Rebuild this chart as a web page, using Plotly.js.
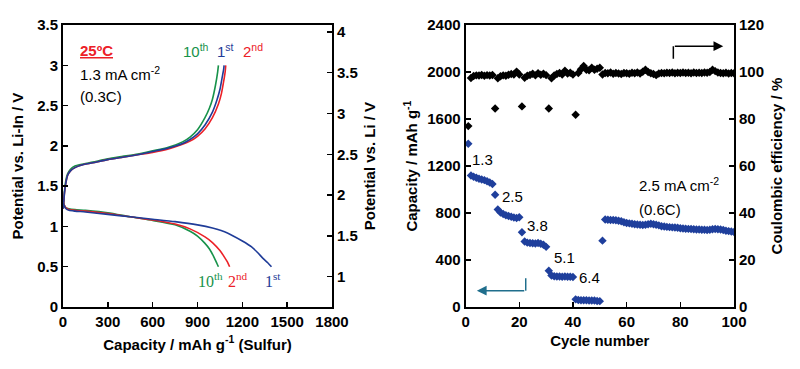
<!DOCTYPE html>
<html>
<head>
<meta charset="utf-8">
<script src="https://cdn.plot.ly/plotly-3.0.1.min.js"></script>
<style>html,body{margin:0;padding:0;background:#fff;}#chart{width:800px;height:369px;}</style>
</head>
<body>
<div id="chart"></div>
<script>
// ---------- Left panel: charge / discharge profiles ----------
const chg1Cap = [0, 5, 10, 20, 30, 50, 80, 120, 200, 300, 400, 500, 600, 700, 800, 850, 900, 950, 1000, 1030, 1050, 1065, 1075, 1078];
const chg1V   = [1.22, 1.3, 1.42, 1.55, 1.63, 1.69, 1.73, 1.76, 1.79, 1.83, 1.86, 1.89, 1.93, 1.97, 2.03, 2.08, 2.15, 2.26, 2.42, 2.57, 2.70, 2.85, 2.95, 3.0];
const chg2Cap = [0, 5, 10, 20, 30, 50, 80, 120, 200, 300, 400, 500, 600, 700, 800, 850, 900, 950, 1000, 1040, 1060, 1075, 1085, 1089];
const chg2V   = [1.22, 1.3, 1.42, 1.55, 1.63, 1.69, 1.73, 1.76, 1.79, 1.83, 1.86, 1.89, 1.92, 1.96, 2.02, 2.06, 2.12, 2.21, 2.35, 2.52, 2.65, 2.80, 2.92, 3.0];
const chg10Cap = [0, 5, 10, 20, 30, 50, 80, 120, 200, 300, 400, 500, 600, 700, 800, 850, 900, 950, 980, 1000, 1020, 1035, 1040];
const chg10V   = [1.22, 1.31, 1.44, 1.58, 1.65, 1.71, 1.75, 1.77, 1.80, 1.84, 1.87, 1.90, 1.94, 1.98, 2.05, 2.11, 2.20, 2.35, 2.47, 2.58, 2.75, 2.92, 3.0];

const dis1Cap = [0, 10, 20, 40, 80, 150, 300, 450, 600, 750, 900, 1000, 1100, 1200, 1260, 1300, 1340, 1370, 1395];
const dis1V   = [1.30, 1.25, 1.22, 1.20, 1.19, 1.18, 1.15, 1.12, 1.09, 1.06, 1.02, 0.98, 0.92, 0.82, 0.75, 0.68, 0.60, 0.55, 0.50];
const dis2Cap = [0, 10, 20, 40, 80, 150, 300, 450, 600, 750, 850, 950, 1000, 1050, 1080, 1100, 1115];
const dis2V   = [1.30, 1.26, 1.23, 1.21, 1.20, 1.19, 1.16, 1.12, 1.08, 1.03, 0.97, 0.87, 0.80, 0.70, 0.62, 0.56, 0.50];
const dis10Cap = [0, 10, 20, 40, 80, 150, 300, 450, 600, 750, 850, 900, 950, 980, 1010, 1030, 1040];
const dis10V   = [1.30, 1.26, 1.23, 1.22, 1.21, 1.20, 1.17, 1.12, 1.075, 1.02, 0.94, 0.88, 0.79, 0.72, 0.62, 0.54, 0.50];

// ---------- Right panel: rate capability ----------
const cycles = Array.from({length: 100}, (_, i) => i + 1);
const capacity = [
  1390, 1120, 1108, 1100, 1092, 1086, 1080, 1070, 1060, 1048,
  955, 830, 805, 792, 782, 775, 768, 762, 758, 765,
  637, 557, 548, 545, 543, 540, 545, 538, 530, 512,
  309, 268, 262, 260, 260, 258, 260, 258, 257, 255,
  65, 60, 58, 58, 57, 56, 55, 55, 52, 50,
  565, 745, 742, 740, 740, 738, 735, 730, 722, 715,
  712, 708, 705, 703, 700, 698, 700, 705, 708, 705,
  700, 695, 688, 685, 682, 680, 678, 676, 674, 670,
  668, 667, 665, 664, 662, 660, 659, 658, 657, 656,
  658, 662, 664, 662, 660, 655, 650, 646, 642, 638
];
const efficiency = [
  77.0, 97.5, 98.3, 98.6, 98.5, 98.8, 98.4, 98.7, 98.5, 98.8,
  84.5, 97.4, 98.2, 98.6, 98.4, 98.9, 99.2, 99.0, 100.2, 99.0,
  85.4, 97.6, 98.4, 98.8, 99.3, 98.6, 99.5, 98.9, 99.3, 98.7,
  84.5, 97.4, 98.5, 99.2, 99.6, 99.0, 100.6, 99.4, 99.7, 99.0,
  81.8, 99.6, 101.2, 102.6, 101.0, 100.8, 101.8, 101.0, 101.4, 101.8,
  99.0, 99.6, 99.5, 99.8, 99.3, 99.6, 99.4, 99.2, 99.6, 99.5,
  99.3, 99.7, 99.5, 99.8, 99.4, 100.1, 101.0, 100.0, 99.5, 99.2,
  98.7, 99.4, 99.6, 99.5, 99.7, 99.6, 99.8, 99.5, 99.7, 99.6,
  99.8, 99.6, 99.7, 99.5, 99.8, 99.6, 99.7, 99.6, 99.8, 99.7,
  100.0, 101.0, 100.4, 99.8, 99.6, 99.5, 99.7, 99.4, 99.6, 99.5
];

const GREEN = '#17924a', BLUE = '#1f3c98', RED = '#ec2027', PTBLUE = '#1f3f9c', TEAL = '#1f6e8c';
const FONT = 'Liberation Sans, Arial, sans-serif';
const SERIF = 'Liberation Serif, Times New Roman, serif';

function line(x, y, color, xa, ya) {
  return {x: x, y: y, type: 'scatter', mode: 'lines', xaxis: xa, yaxis: ya,
          line: {color: color, width: 1.6, shape: 'spline', smoothing: 0.6}, hoverinfo: 'skip', showlegend: false};
}

const traces = [
  line(chg10Cap, chg10V, GREEN, 'x', 'y'),
  line(chg2Cap, chg2V, RED, 'x', 'y'),
  line(chg1Cap, chg1V, BLUE, 'x', 'y'),
  line(dis10Cap, dis10V, GREEN, 'x', 'y'),
  line(dis2Cap, dis2V, RED, 'x', 'y'),
  line(dis1Cap, dis1V, BLUE, 'x', 'y'),
  {x: [null], y: [null], xaxis: 'x', yaxis: 'y2', type: 'scatter', mode: 'lines', showlegend: false, hoverinfo: 'skip'},
  {x: cycles, y: capacity, xaxis: 'x3', yaxis: 'y3', type: 'scatter', mode: 'markers',
   marker: {symbol: 'diamond', size: 6.5, color: PTBLUE}, showlegend: false, hoverinfo: 'skip'},
  {x: cycles, y: efficiency, xaxis: 'x3', yaxis: 'y4', type: 'scatter', mode: 'markers',
   marker: {symbol: 'diamond', size: 6.5, color: '#000'}, showlegend: false, hoverinfo: 'skip'}
];

const tickFont = {family: FONT, size: 15, color: '#000', weight: 'bold'};
const titleFont = {family: FONT, size: 15, color: '#000', weight: 'bold'};
const axBase = {showline: true, linewidth: 2, linecolor: '#000', ticks: 'inside', ticklen: 5, tickwidth: 1.5,
                tickcolor: '#000', showgrid: false, zeroline: false, tickfont: tickFont, fixedrange: true};

const YDOM = [0.168, 0.932];
const layout = {
  width: 800, height: 369,
  margin: {l: 0, r: 0, t: 0, b: 0},
  paper_bgcolor: '#fff', plot_bgcolor: '#fff',
  showlegend: false,
  xaxis: Object.assign({}, axBase, {domain: [0.07875, 0.415], range: [0, 1800], tickvals: [0, 300, 600, 900, 1200, 1500, 1800],
          anchor: 'y', mirror: true, title: {text: 'Capacity / mAh g<sup>-1</sup> (Sulfur)', font: titleFont, standoff: 10}}),
  yaxis: Object.assign({}, axBase, {domain: YDOM, range: [0, 3.5], tickvals: [0, 0.5, 1, 1.5, 2, 2.5, 3, 3.5],
          ticktext: ['0', '0.5', '1', '1.5', '2', '2.5', '3', '3.5'], anchor: 'x',
          title: {text: 'Potential vs. Li-In / V', font: titleFont, standoff: 10}}),
  yaxis2: Object.assign({}, axBase, {overlaying: 'y', side: 'right', anchor: 'x', range: [0.629, 4.082],
          tickvals: [1, 1.5, 2, 2.5, 3, 3.5, 4], ticktext: ['1', '1.5', '2', '2.5', '3', '3.5', '4'],
          title: {text: 'Potential vs. Li / V', font: titleFont, standoff: 8}}),
  xaxis3: Object.assign({}, axBase, {domain: [0.582, 0.9175], range: [0, 100], tickvals: [0, 20, 40, 60, 80, 100],
          anchor: 'y3', mirror: true, title: {text: 'Cycle number', font: titleFont, standoff: 6}}),
  yaxis3: Object.assign({}, axBase, {domain: YDOM, range: [0, 2400], tickvals: [0, 400, 800, 1200, 1600, 2000, 2400],
          anchor: 'x3', title: {text: 'Capacity / mAh g<sup>-1</sup>', font: titleFont, standoff: 6}}),
  yaxis4: Object.assign({}, axBase, {overlaying: 'y3', side: 'right', anchor: 'x3', range: [0, 120],
          tickvals: [0, 20, 40, 60, 80, 100, 120],
          title: {text: 'Coulombic efficiency / %', font: titleFont, standoff: 8}}),
  shapes: [
    {type: 'line', xref: 'x3', yref: 'y3', x0: 77.4, x1: 77.4, y0: 2113, y1: 2220, line: {color: '#000', width: 1.5}},
    {type: 'line', xref: 'x3', yref: 'y3', x0: 22.4, x1: 22.4, y0: 245, y1: 139, line: {color: TEAL, width: 1.5}}
  ],
  annotations: [
    {xref: 'x', yref: 'y', x: 100, y: 3.19, xanchor: 'left', text: '<b>25ºC</b>', showarrow: false,
     font: {family: FONT, size: 15, color: RED, lineposition: 'under'}},
    {xref: 'x', yref: 'y', x: 100, y: 2.90, xanchor: 'left', text: '1.3 mA cm<sup>-2</sup>', showarrow: false,
     font: {family: FONT, size: 15, color: '#000'}},
    {xref: 'x', yref: 'y', x: 100, y: 2.61, xanchor: 'left', text: '(0.3C)', showarrow: false,
     font: {family: FONT, size: 15, color: '#000'}},
    {xref: 'x', yref: 'y', x: 890, y: 3.19, text: '10<sup>th</sup>', showarrow: false, font: {family: FONT, size: 15, color: GREEN}},
    {xref: 'x', yref: 'y', x: 1084, y: 3.19, text: '1<sup>st</sup>', showarrow: false, font: {family: FONT, size: 15, color: BLUE}},
    {xref: 'x', yref: 'y', x: 1272, y: 3.19, text: '2<sup>nd</sup>', showarrow: false, font: {family: FONT, size: 15, color: RED}},
    {xref: 'x', yref: 'y', x: 984, y: 0.33, text: '10<sup>th</sup>', showarrow: false, font: {family: SERIF, size: 16, color: GREEN}},
    {xref: 'x', yref: 'y', x: 1171, y: 0.33, text: '2<sup>nd</sup>', showarrow: false, font: {family: SERIF, size: 16, color: RED}},
    {xref: 'x', yref: 'y', x: 1405, y: 0.33, text: '1<sup>st</sup>', showarrow: false, font: {family: SERIF, size: 16, color: BLUE}},

    {xref: 'x3', yref: 'y3', x: 6.4, y: 1254, text: '1.3', showarrow: false, font: {family: FONT, size: 15, color: '#000'}},
    {xref: 'x3', yref: 'y3', x: 17.6, y: 941, text: '2.5', showarrow: false, font: {family: FONT, size: 15, color: '#000'}},
    {xref: 'x3', yref: 'y3', x: 26.9, y: 693, text: '3.8', showarrow: false, font: {family: FONT, size: 15, color: '#000'}},
    {xref: 'x3', yref: 'y3', x: 36.9, y: 422, text: '5.1', showarrow: false, font: {family: FONT, size: 15, color: '#000'}},
    {xref: 'x3', yref: 'y3', x: 46.2, y: 252, text: '6.4', showarrow: false, font: {family: FONT, size: 15, color: '#000'}},
    {xref: 'x3', yref: 'y3', x: 63.7, y: 1041, xanchor: 'left', text: '2.5 mA cm<sup>-2</sup>', showarrow: false,
     font: {family: FONT, size: 15, color: '#000'}},
    {xref: 'x3', yref: 'y3', x: 63.7, y: 833, xanchor: 'left', text: '(0.6C)', showarrow: false,
     font: {family: FONT, size: 15, color: '#000'}},
    {xref: 'x3', yref: 'y3', axref: 'x3', ayref: 'y3', x: 96.0, y: 2220, ax: 77.4, ay: 2220, text: '',
     showarrow: true, arrowhead: 2, arrowsize: 1.3, arrowwidth: 1.5, arrowcolor: '#000'},
    {xref: 'x3', yref: 'y3', axref: 'x3', ayref: 'y3', x: 4.2, y: 139, ax: 22.4, ay: 139, text: '',
     showarrow: true, arrowhead: 2, arrowsize: 1.3, arrowwidth: 1.5, arrowcolor: TEAL}
  ]
};

Plotly.newPlot('chart', traces, layout, {staticPlot: true, displayModeBar: false});
</script>
</body>
</html>
